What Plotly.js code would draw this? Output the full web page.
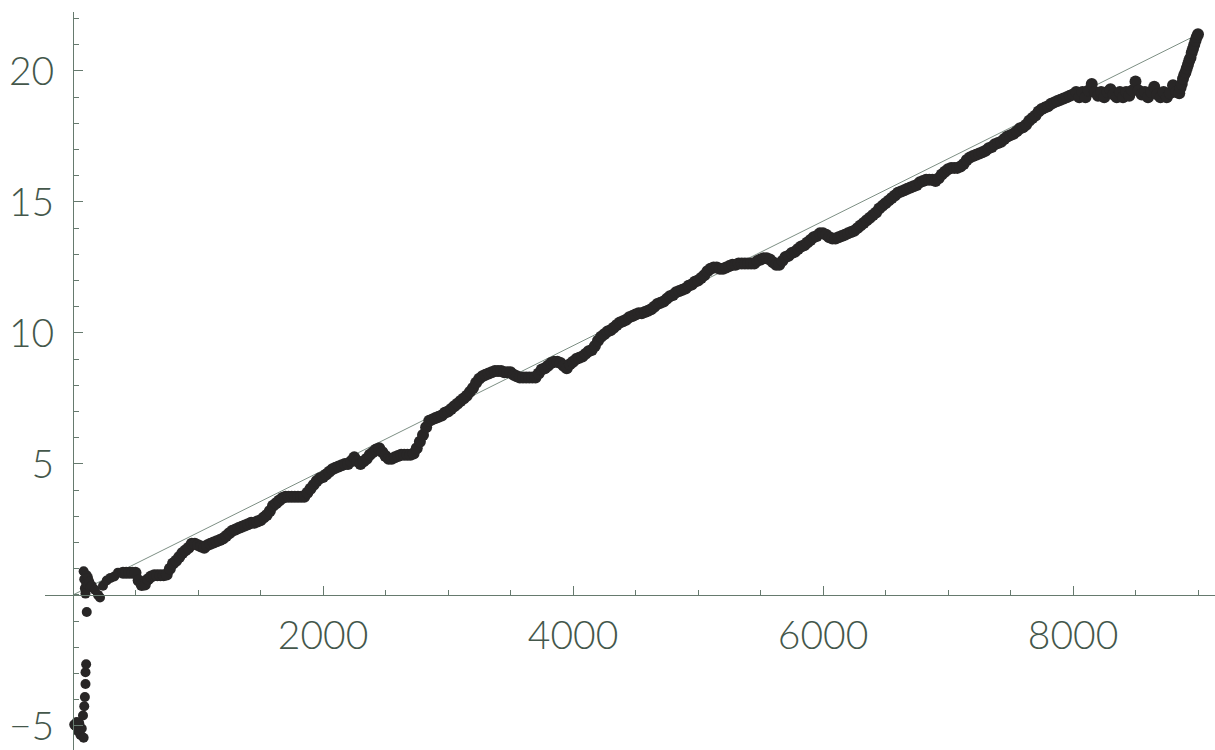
<!DOCTYPE html>
<html>
<head>
<meta charset="utf-8">
<script src="https://cdn.plot.ly/plotly-3.0.1.min.js"></script>
<style>html,body{margin:0;padding:0;background:#fff;}#chart{width:1215px;height:750px;}</style>
</head>
<body>
<div id="chart"></div>
<script>
// Early scatter near the origin (x, y)
const startX = [10,20,30,40,50,60,70,80,85,90,95,100,100,105,110,
  85,90,95,100,105,110,115,120,130,140,150,175,200,216,240,270,300,330,360];
const startY = [-4.95,-5.0,-4.85,-5.2,-4.9,-5.35,-5.1,-4.6,-5.45,-4.25,-3.9,-3.4,-2.95,-2.65,-0.65,
  0.9,0.6,0.25,0.05,0.45,0.75,0.4,0.65,0.5,0.3,0.35,0.2,0.0,-0.1,0.35,0.55,0.65,0.7,0.85];

// Main walk (x, y)
const walkX = [
  400,425,450,475,500,525,550,575,600,625,650,675,700,725,750,775,800,825,850,875,900,925,950,975,
  1000,1025,1050,1075,1100,1125,1150,1175,1200,1225,1250,1275,1300,1325,1350,1375,1400,1425,1450,1475,1500,1525,1550,1575,1600,1625,1650,1675,1700,1725,1750,1775,1800,1825,1850,1875,1900,1925,1950,1975,
  2000,2025,2050,2075,2100,2125,2150,2175,2200,2225,2250,2275,2300,2325,2350,2375,2400,2425,2450,2475,2500,2525,2550,2575,2600,2625,2650,2675,2700,2725,2750,2775,2800,2825,2850,2875,2900,2925,2950,2975,
  3000,3025,3050,3075,3100,3125,3150,3175,3200,3225,3250,3275,3300,3325,3350,3375,3400,3425,3450,3475,3500,3525,3550,3575,3600,3625,3650,3675,3700,3725,3750,3775,3800,3825,3850,3875,3900,3925,3950,3975,
  4000,4025,4050,4075,4100,4125,4150,4175,4200,4225,4250,4275,4300,4325,4350,4375,4400,4425,4450,4475,4500,4525,4550,4575,4600,4625,4650,4675,4700,4725,4750,4775,4800,4825,4850,4875,4900,4925,4950,4975,
  5000,5025,5050,5075,5100,5125,5150,5175,5200,5225,5250,5275,5300,5325,5350,5375,5400,5425,5450,5475,5500,5525,5550,5575,5600,5625,5650,5675,5700,5725,5750,5775,5800,5825,5850,5875,5900,5925,5950,5975,
  6000,6025,6050,6075,6100,6125,6150,6175,6200,6225,6250,6275,6300,6325,6350,6375,6400,6425,6450,6475,6500,6525,6550,6575,6600,6625,6650,6675,6700,6725,6750,6775,6800,6825,6850,6875,6900,6925,6950,6975,
  7000,7025,7050,7075,7100,7125,7150,7175,7200,7225,7250,7275,7300,7325,7350,7375,7400,7425,7450,7475,7500,7525,7550,7575,7600,7625,7650,7675,7700,7725,7750,7775,7800,7825,7850,7875,7900,7925,7950,7975,
  8000,8025,8050,8075,8100,8125,8150,8175,8200,8225,8250,8275,8300,8325,8350,8375,8400,8425,8450,8475,8500,8525,8550,8575,8600,8625,8650,8675,8700,8725,8750,8775,8800,8825,8850,
  8860,8870,8880,8890,8900,8910,8920,8930,8940,8950,8960,8970,8980,8990,9000];
const walkY = [
  0.85,0.85,0.85,0.85,0.85,0.55,0.38,0.4,0.6,0.7,0.75,0.75,0.75,0.75,0.78,1.0,1.2,1.3,1.45,1.6,1.7,1.8,1.95,1.95,
  1.9,1.85,1.8,1.9,1.95,2.0,2.05,2.1,2.15,2.25,2.35,2.45,2.5,2.55,2.6,2.65,2.7,2.75,2.75,2.8,2.85,2.95,3.05,3.2,3.4,3.5,3.6,3.7,3.75,3.75,3.75,3.75,3.75,3.75,3.75,3.9,4.05,4.2,4.35,4.45,
  4.5,4.6,4.7,4.8,4.85,4.9,4.95,5.0,5.0,5.1,5.25,5.1,5.0,5.1,5.2,5.35,5.45,5.55,5.6,5.45,5.3,5.2,5.2,5.25,5.3,5.35,5.35,5.35,5.35,5.4,5.6,5.85,6.1,6.4,6.65,6.7,6.75,6.8,6.85,6.95,
  7.0,7.1,7.2,7.3,7.4,7.5,7.6,7.75,7.9,8.1,8.25,8.35,8.4,8.45,8.5,8.55,8.55,8.55,8.5,8.5,8.5,8.4,8.35,8.3,8.3,8.3,8.3,8.3,8.3,8.45,8.6,8.65,8.75,8.85,8.9,8.9,8.85,8.75,8.65,8.8,
  8.9,9.0,9.05,9.1,9.2,9.3,9.35,9.5,9.7,9.85,9.95,10.05,10.1,10.2,10.3,10.4,10.45,10.5,10.6,10.65,10.7,10.75,10.75,10.8,10.85,10.9,11.0,11.1,11.15,11.2,11.3,11.4,11.45,11.55,11.6,11.65,11.7,11.8,11.85,11.95,
  12.0,12.1,12.2,12.35,12.45,12.5,12.5,12.45,12.45,12.5,12.55,12.6,12.6,12.65,12.65,12.65,12.65,12.65,12.65,12.75,12.8,12.85,12.85,12.8,12.7,12.6,12.6,12.75,12.9,12.95,13.05,13.1,13.2,13.3,13.35,13.45,13.55,13.65,13.7,13.8,
  13.8,13.75,13.65,13.6,13.6,13.65,13.7,13.75,13.8,13.85,13.9,14.0,14.1,14.2,14.3,14.4,14.5,14.6,14.75,14.85,14.95,15.05,15.15,15.25,15.35,15.4,15.45,15.5,15.55,15.6,15.65,15.75,15.8,15.85,15.85,15.85,15.8,15.9,16.05,16.15,
  16.25,16.3,16.3,16.3,16.35,16.45,16.6,16.7,16.75,16.8,16.85,16.9,16.95,17.05,17.1,17.2,17.25,17.3,17.4,17.5,17.55,17.6,17.7,17.8,17.85,17.95,18.1,18.2,18.3,18.45,18.55,18.6,18.65,18.75,18.8,18.85,18.9,18.95,19.0,19.05,
  19.1,19.2,19.0,19.2,19.0,19.25,19.5,19.2,19.05,19.2,19.0,19.2,19.3,19.1,19.0,19.2,19.0,19.2,19.05,19.25,19.6,19.25,19.1,19.2,19.0,19.2,19.4,19.1,19.0,19.2,19.0,19.15,19.45,19.2,19.15,
  19.35,19.5,19.7,19.85,19.95,20.1,20.25,20.4,20.5,20.7,20.85,21.0,21.15,21.3,21.4];

// Reference straight line
const lineX = [0, 9000];
const lineY = [0, 21.4];

// Tick labels
const xTickVals = [2000, 4000, 6000, 8000];
const yTickVals = [-5, 5, 10, 15, 20];

const axisColor = '#667a6e';
const labelColor = '#44574b';
const tickFont = {family: 'Lato, "Open Sans", sans-serif', size: 39, color: labelColor, weight: 300};
const dotStyle = {color: '#282626', size: 12, line: {width: 0}};

const traces = [
  {x: lineX, y: lineY, type: 'scatter', mode: 'lines',
   line: {color: '#7d8f84', width: 1}, hoverinfo: 'skip'},
  {x: startX, y: startY, type: 'scatter', mode: 'markers', marker: {color: '#282626', size: 10, line: {width: 0}}},
  {x: walkX, y: walkY, type: 'scatter', mode: 'markers', marker: dotStyle}
];

const layout = {
  width: 1215, height: 750,
  margin: {l: 45, r: 0, t: 12, b: 0, pad: 0},
  paper_bgcolor: '#ffffff', plot_bgcolor: '#ffffff',
  showlegend: false,
  xaxis: {
    range: [-224, 9136], anchor: 'free', position: 0.2102,
    showgrid: false, zeroline: false, showline: true, linecolor: axisColor, linewidth: 1,
    tickmode: 'array', tickvals: xTickVals,
    ticks: 'inside', ticklen: 9, tickcolor: axisColor, tickwidth: 1,
    minor: {tick0: 0, dtick: 500, ticks: 'inside', ticklen: 5, tickcolor: axisColor, tickwidth: 1, showgrid: false},
    tickfont: tickFont, ticklabelstandoff: 6
  },
  yaxis: {
    range: [-5.92, 22.25], anchor: 'free', position: 0.02393,
    showgrid: false, zeroline: false, showline: true, linecolor: axisColor, linewidth: 1,
    tickmode: 'array', tickvals: yTickVals,
    ticks: 'inside', ticklen: 9, tickcolor: axisColor, tickwidth: 1,
    minor: {tick0: 0, dtick: 1, ticks: 'inside', ticklen: 5, tickcolor: axisColor, tickwidth: 1, showgrid: false},
    tickfont: tickFont, ticklabelstandoff: 11
  }
};

Plotly.newPlot('chart', traces, layout, {staticPlot: true, displayModeBar: false});
</script>
</body>
</html>
